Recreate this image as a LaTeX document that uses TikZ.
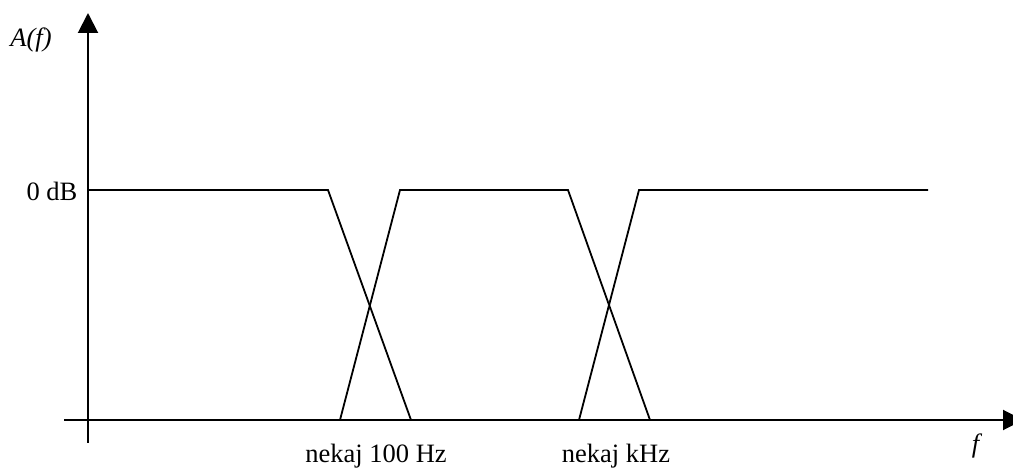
\documentclass[tikz,border=0pt]{standalone}
\usepackage{fontspec}
\setmainfont{Liberation Serif}
\usetikzlibrary{arrows.meta}
\begin{document}
\begin{tikzpicture}[x=1pt,y=-1pt,
  axis/.style={line width=2pt,-{Triangle[width=20pt,length=20pt]}},
  curve/.style={line width=1.8pt,line join=miter},
  lbl/.style={font=\fontsize{26.5}{30}\selectfont,inner sep=0pt}]
\useasboundingbox (0,0) rectangle (1013,470);
% axes
\coordinate (yb) at (88,443);
\coordinate (yt) at (88,13);
\coordinate (xl) at (64,420);
\coordinate (xr) at (1023,420);
\draw[axis] (yb) -- (yt);
\draw[axis] (xl) -- (xr);
% low-pass
\coordinate (a0) at (88,190);
\coordinate (a1) at (328,190);
\coordinate (a2) at (411,420);
\draw[curve] (a0) -- (a1) -- (a2);
% band-pass
\coordinate (b0) at (340,420);
\coordinate (b1) at (400,190);
\coordinate (b2) at (568,190);
\coordinate (b3) at (650,420);
\draw[curve] (b0) -- (b1) -- (b2) -- (b3);
% high-pass
\coordinate (c0) at (579,420);
\coordinate (c1) at (639,190);
\coordinate (c2) at (928,190);
\draw[curve] (c0) -- (c1) -- (c2);
% labels
\node[lbl] (ylab) at (31,40) {\textit{A(f)}};
\node[lbl] (odb) at (52,191) {0 dB};
\node[lbl] (f1) at (376,456) {nekaj 100 Hz};
\node[lbl] (f2) at (616,456) {nekaj kHz};
\node[lbl] (xlab) at (977,446) {\textit{f}};
\end{tikzpicture}
\end{document}
